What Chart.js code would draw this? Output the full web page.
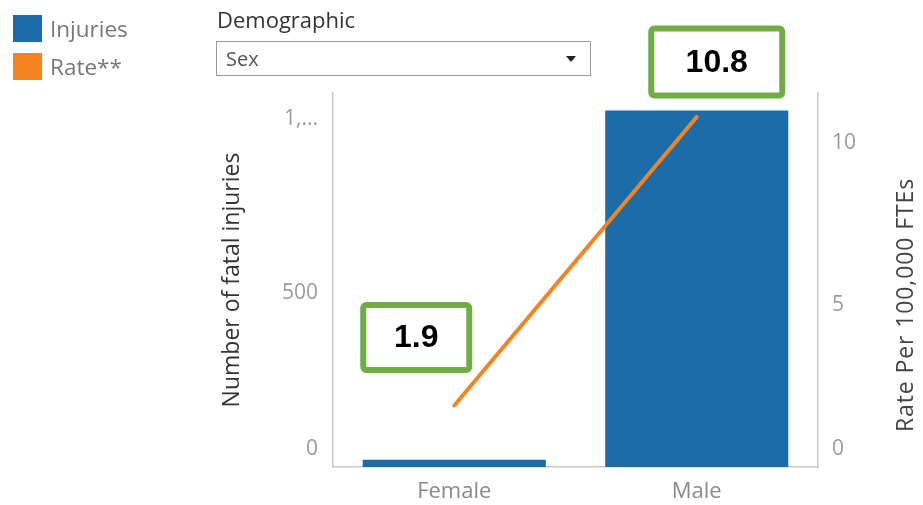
<!DOCTYPE html>
<html>
<head>
<meta charset="utf-8">
<script src="https://cdn.jsdelivr.net/npm/chart.js@4"></script>
<style>
  html, body { margin: 0; padding: 0; background: #fff; }
  #wrap { position: relative; width: 923px; height: 505px; overflow: hidden; font-family: "Open Sans", sans-serif; }
  #chart { position: absolute; left: 0; top: 0; }
  .legend { position: absolute; left: 13px; top: 9px; }
  .legend-item { display: flex; align-items: center; height: 38px; margin-bottom: 0; }
  .swatch { width: 29px; height: 27px; margin-right: 8px; }
  .legend-text { font-size: 22.5px; color: #777; }
  .filter-title { position: absolute; left: 217px; top: 4px; font-size: 22px; color: #333; }
  .filter-box { position: absolute; left: 216px; top: 41px; width: 375px; height: 35px; border: 1.5px solid #9a9a9a; box-sizing: border-box; }
  .filter-box span { position: absolute; left: 9px; top: 3px; font-size: 20px; color: #555; }
  .filter-box .arrow { position: absolute; right: 14px; top: 14px; width: 0; height: 0; border-left: 5px solid transparent; border-right: 5px solid transparent; border-top: 6px solid #222; }
</style>
</head>
<body>
<div id="wrap">
  <canvas id="chart" width="923" height="505"></canvas>
  <div class="legend" id="legend"></div>
  <div class="filter-title">Demographic</div>
  <div class="filter-box"><span>Sex</span><div class="arrow"></div></div>
</div>
<script>
// Fatal injuries and rate per 100,000 FTEs, split by sex
const categories = ['Female', 'Male'];
const injuries = [21, 1025];
const rate = [1.9, 10.8];

const seriesNames = ['Injuries', 'Rate**'];
const seriesColors = ['#1B6CA8', '#F5831F'];

const injuryTicks = [0, 500, 1000];
const injuryTickLabels = ['0', '500', '1,...'];
const rateTicks = [0, 5, 10];
const rateTickLabels = ['0', '5', '10'];

const FONT = '"Open Sans", sans-serif';

// legend swatches
const legendEl = document.getElementById('legend');
seriesNames.forEach((name, i) => {
  const item = document.createElement('div');
  item.className = 'legend-item';
  const sw = document.createElement('div');
  sw.className = 'swatch';
  sw.style.background = seriesColors[i];
  const tx = document.createElement('span');
  tx.className = 'legend-text';
  tx.textContent = name;
  item.appendChild(sw);
  item.appendChild(tx);
  legendEl.appendChild(item);
});

// green callout boxes with the rate value over each point
const calloutPlugin = {
  id: 'callouts',
  afterDatasetsDraw(chart, args, opts) {
    const meta = chart.getDatasetMeta(1);
    const ctx = chart.ctx;
    meta.data.forEach((pt, i) => {
      const box = opts.boxes[i];
      const cx = pt.x + box.dx, cy = pt.y + box.dy;
      const x = cx - box.w / 2, y = cy - box.h / 2;
      ctx.save();
      ctx.fillStyle = '#fff';
      ctx.strokeStyle = '#70AD47';
      ctx.lineWidth = 6;
      ctx.beginPath();
      ctx.roundRect(x + 3, y + 3, box.w - 6, box.h - 6, 3);
      ctx.fill();
      ctx.stroke();
      ctx.fillStyle = '#000';
      ctx.font = 'bold 32px "Liberation Sans", Arial, sans-serif';
      ctx.textAlign = 'center';
      ctx.textBaseline = 'middle';
      ctx.fillText(rate[i].toFixed(1), cx, cy + 1);
      ctx.restore();
    });
  }
};

// right axis title reads bottom-to-top
const rightTitlePlugin = {
  id: 'rightTitle',
  afterDraw(chart, args, opts) {
    const s = chart.scales.y1;
    const ctx = chart.ctx;
    ctx.save();
    ctx.translate(opts.x, (s.top + s.bottom) / 2 + opts.dy);
    ctx.rotate(-Math.PI / 2);
    ctx.font = '23px ' + FONT;
    ctx.letterSpacing = '0.9px';
    ctx.fillStyle = '#444';
    ctx.textAlign = 'center';
    ctx.textBaseline = 'middle';
    ctx.fillText(opts.text, 0, 0);
    ctx.restore();
  }
};

// zero labels sit a little above the baseline, inside the plot
const tickFont = { family: FONT, size: 21, lineHeight: 1.72 };
const withZeroLift = (label, value) => (value === 0 ? [label, ''] : label);

new Chart(document.getElementById('chart'), {
  data: {
    labels: categories,
    datasets: [
      {
        type: 'bar',
        label: seriesNames[0],
        data: injuries,
        backgroundColor: seriesColors[0],
        yAxisID: 'y',
        categoryPercentage: 1,
        barPercentage: 0.755,
        order: 1
      },
      {
        type: 'line',
        label: seriesNames[1],
        data: rate,
        borderColor: seriesColors[1],
        borderWidth: 4,
        borderCapStyle: 'round',
        pointRadius: 0,
        yAxisID: 'y1',
        order: 0
      }
    ]
  },
  options: {
    responsive: false,
    animation: false,
    events: [],
    layout: { padding: { left: 200, top: 93, right: 0, bottom: 0 } },
    plugins: {
      legend: { display: false },
      tooltip: { enabled: false },
      callouts: {
        boxes: [
          { dx: -38, dy: -68, w: 112, h: 71 },
          { dx: 20, dy: -55, w: 137, h: 73 }
        ]
      },
      rightTitle: { text: 'Rate Per 100,000 FTEs', x: 906, dy: 25 }
    },
    scales: {
      x: {
        grid: { display: false, drawTicks: false },
        border: { display: true, color: '#c8c8c8', width: 1.5 },
        ticks: { color: '#8a8a8a', font: { family: FONT, size: 22 }, padding: 12 },
        afterFit(scale) { scale.height = 38; }
      },
      y: {
        position: 'left',
        min: 0,
        max: 1075,
        grid: { display: false, drawTicks: false },
        border: { display: true, color: '#c8c8c8', width: 1.5 },
        ticks: {
          color: '#9a9a9a',
          font: tickFont,
          padding: 15,
          callback: (v) => withZeroLift(injuryTickLabels[injuryTicks.indexOf(v)], v)
        },
        afterBuildTicks(scale) { scale.ticks = injuryTicks.map(v => ({ value: v })); },
        afterFit(scale) { scale.width = 133; scale.paddingTop = 0; scale.paddingBottom = 0; },
        title: {
          display: true,
          text: 'Number of fatal injuries',
          color: '#333',
          font: { family: FONT, size: 23 },
          padding: { top: 19 }
        }
      },
      y1: {
        position: 'right',
        min: 0,
        max: 11.54,
        grid: { display: false, drawTicks: false },
        border: { display: true, color: '#c8c8c8', width: 1.5 },
        ticks: {
          color: '#9a9a9a',
          font: tickFont,
          padding: 14,
          callback: (v) => withZeroLift(rateTickLabels[rateTicks.indexOf(v)], v)
        },
        afterBuildTicks(scale) { scale.ticks = rateTicks.map(v => ({ value: v })); },
        afterFit(scale) { scale.width = 105; scale.paddingTop = 0; scale.paddingBottom = 0; }
      }
    }
  },
  plugins: [calloutPlugin, rightTitlePlugin]
});
</script>
</body>
</html>
